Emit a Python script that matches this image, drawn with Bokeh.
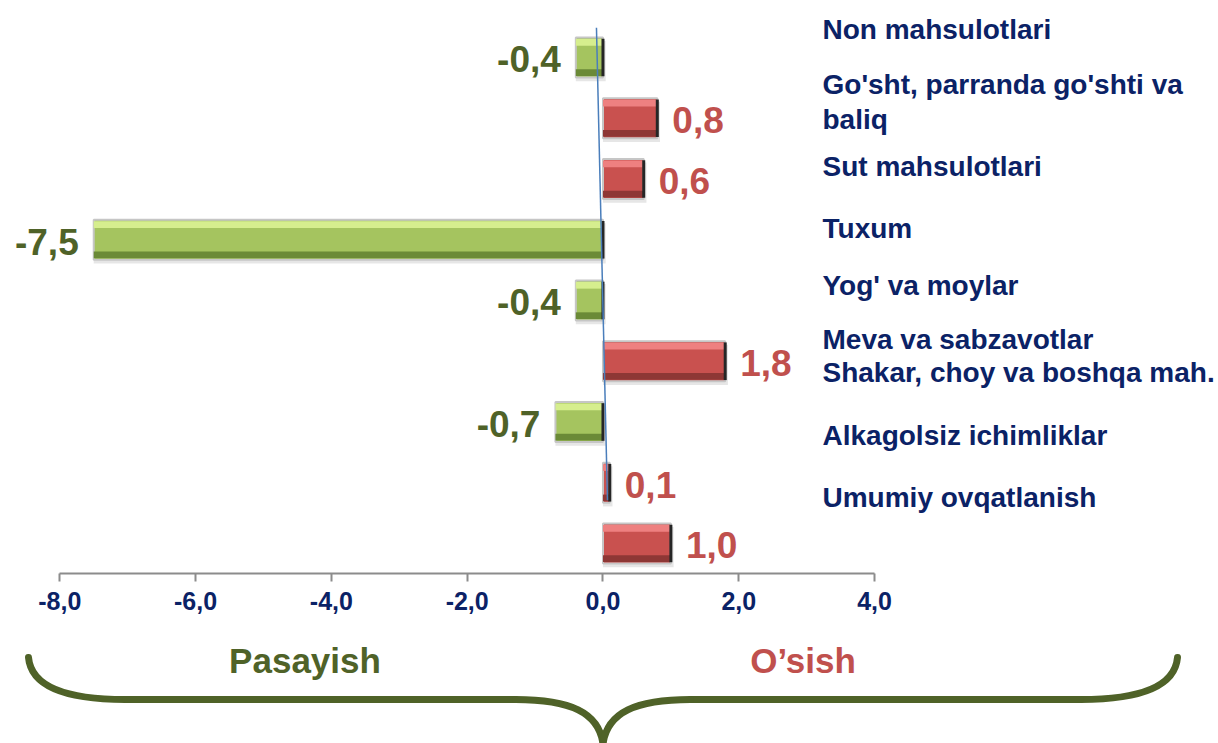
import numpy as np
from bokeh.plotting import figure
from bokeh.models import Range1d, FixedTicker, ColumnDataSource
from bokeh.layouts import column
from bokeh.core.properties import value
from bokeh.embed import file_html
from bokeh.resources import INLINE

# ---------------- data ----------------
categories = [
    "Non mahsulotlari",
    "Go'sht, parranda go'shti va\nbaliq",
    "Sut mahsulotlari",
    "Tuxum",
    "Yog' va moylar",
    "Meva va sabzavotlar",
    "Shakar, choy va boshqa mah.",
    "Alkagolsiz ichimliklar",
    "Umumiy ovqatlanish",
]
values = [-0.4, 0.8, 0.6, -7.5, -0.4, 1.8, -0.7, 0.1, 1.0]
tick_values = [-8, -6, -4, -2, 0, 2, 4]
tick_labels = ["-8,0", "-6,0", "-4,0", "-2,0", "0,0", "2,0", "4,0"]
side_left = "Pasayish"
side_right = "O\u2019sish"

# label vertical shifts (in category units) relative to each bar row
label_shift = [-0.46, -0.27, -0.21, -0.18, -0.25, -0.35, -0.81, -0.77, -0.76]

FONT = value("Liberation Sans")
NAVY = "#0b2266"
GREEN_TXT = "#4f6228"
RED_TXT = "#c0504d"

vals = np.array(values)
ys = np.arange(len(vals), dtype=float)
left = np.minimum(vals, 0)
right = np.maximum(vals, 0)
pos = vals > 0
main_col = np.where(pos, "#c9514f", "#a5c45f")
light_col = np.where(pos, "#ee8080", "#d6ee8e")
dark_col = np.where(pos, "#8e3735", "#6b8a37")
txt = [f"{v:.1f}".replace(".", ",") for v in values]

src = ColumnDataSource(dict(y=ys, left=left, right=right, main=main_col))

W = 1218
H1 = 633
H2 = 110
BH = 0.66

p = figure(width=W, height=H1, output_backend="svg", toolbar_location=None,
           x_range=Range1d(-8.873, 9.065), y_range=Range1d(8.494, -0.938),
           y_axis_location=None, min_border_left=0, min_border_right=0,
           min_border_top=0, min_border_bottom=H1 - 573)
p.grid.visible = False
p.outline_line_color = None
p.background_fill_color = "white"
p.border_fill_color = "white"

# shadow
sh = ColumnDataSource(dict(y=ys + 0.06, left=left, right=right + 0.04))
p.hbar(y="y", left="left", right="right", height=BH, source=sh,
       fill_color="#808080", fill_alpha=0.2, line_color=None)
# main bar
p.hbar(y="y", left="left", right="right", height=BH, source=src,
       fill_color="main", line_color="#c6c6c6", line_width=2)
# bevel top / bottom
top_src = ColumnDataSource(dict(y=ys - BH / 2 + 0.08, left=left, right=right, c=light_col))
bot_src = ColumnDataSource(dict(y=ys + BH / 2 - 0.08, left=left, right=right, c=dark_col))
p.hbar(y="y", left="left", right="right", height=0.11, source=top_src,
       fill_color="c", line_color=None)
p.hbar(y="y", left="left", right="right", height=0.11, source=bot_src,
       fill_color="c", line_color=None)
# dark right edge
p.segment(x0=right, y0=ys - BH / 2 + 0.02, x1=right, y1=ys + BH / 2 - 0.02,
          line_color="#262626", line_width=3)

# value labels
neg_src = ColumnDataSource(dict(x=vals[~pos], y=ys[~pos], t=[t for t, q in zip(txt, pos) if not q]))
pos_src = ColumnDataSource(dict(x=vals[pos], y=ys[pos], t=[t for t, q in zip(txt, pos) if q]))
p.text(x="x", y="y", text="t", source=neg_src, x_offset=-15, y_offset=2,
       text_align="right", text_baseline="middle", text_font=FONT,
       text_font_style="bold", text_font_size="37px", text_color=GREEN_TXT)
p.text(x="x", y="y", text="t", source=pos_src, x_offset=15, y_offset=2,
       text_align="left", text_baseline="middle", text_font=FONT,
       text_font_style="bold", text_font_size="37px", text_color=RED_TXT)

# category labels on the right
cat_src = ColumnDataSource(dict(x=np.full(len(categories), 3.233),
                                y=ys + np.array(label_shift), t=categories))
p.text(x="x", y="y", text="t", source=cat_src, text_align="left",
       text_baseline="middle", text_font=FONT, text_font_style="bold",
       text_font_size="28px", text_color=NAVY, text_line_height=1.12)

# thin blue line near zero
p.segment(x0=[-0.096], y0=[-0.49], x1=[0.066], y1=[7.29],
          line_color="#4a7ebb", line_width=1.5)

# x axis
ax = p.xaxis[0]
ax.ticker = FixedTicker(ticks=tick_values)
ax.bounds = (tick_values[0], tick_values[-1])
ax.major_label_overrides = {t: l for t, l in zip(tick_values, tick_labels)}
ax.axis_line_color = "#8c8c8c"
ax.axis_line_width = 2
ax.major_tick_line_color = "#8c8c8c"
ax.major_tick_line_width = 2
ax.major_tick_out = 8
ax.major_tick_in = 0
ax.minor_tick_line_color = None
ax.major_label_standoff = 10
ax.major_label_text_font = "Liberation Sans"
ax.major_label_text_font_style = "bold"
ax.major_label_text_font_size = "25px"
ax.major_label_text_color = NAVY

# ---------------- brace panel ----------------
# brace geometry (page-pixel coordinates)
brace_x0 = [28, 125, 515]
brace_y0 = [657, 699, 699]
brace_x1 = [125, 515, 602.5]
brace_y1 = [699, 699, 743]
brace_cx0 = [31, 250, 570]
brace_cy0 = [690, 699, 699]
brace_cx1 = [75, 400, 598]
brace_cy1 = [699, 699, 712]

q = figure(width=W, height=H2, output_backend="svg", toolbar_location=None,
           x_range=Range1d(0, W), y_range=Range1d(H1 + H2, H1),
           x_axis_location=None, y_axis_location=None,
           min_border_left=0, min_border_right=0, min_border_top=0,
           min_border_bottom=0)
q.grid.visible = False
q.outline_line_color = None

bx0 = np.array(brace_x0, float)
bx1 = np.array(brace_x1, float)
bcx0 = np.array(brace_cx0, float)
bcx1 = np.array(brace_cx1, float)
mirror = 1205.0
for flip in (False, True):
    f = (lambda a: mirror - a) if flip else (lambda a: a)
    q.bezier(x0=f(bx0), y0=brace_y0, x1=f(bx1), y1=brace_y1,
             cx0=f(bcx0), cy0=brace_cy0, cx1=f(bcx1), cy1=brace_cy1,
             line_color="#4f6228", line_width=7, line_cap="round")

q.text(x=[304.5], y=[660], text=[side_left], text_align="center",
       text_baseline="middle", text_font=FONT, text_font_style="bold",
       text_font_size="35px", text_color=GREEN_TXT)
q.text(x=[802.5], y=[660], text=[side_right], text_align="center",
       text_baseline="middle", text_font=FONT, text_font_style="bold",
       text_font_size="35px", text_color=RED_TXT)

layout = column(p, q, spacing=0)
open("out.html", "w").write(file_html(layout, INLINE))
